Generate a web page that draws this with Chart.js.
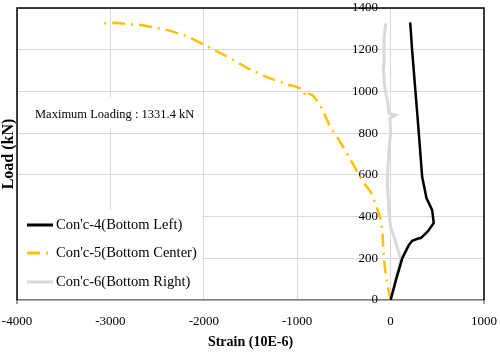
<!DOCTYPE html>
<html>
<head>
<meta charset="utf-8">
<script src="https://cdn.jsdelivr.net/npm/chart.js@4/dist/chart.umd.min.js"></script>
<style>
  html, body { margin: 0; padding: 0; background: #fff; }
</style>
</head>
<body>
<canvas id="chart" width="500" height="354"></canvas>
<script>
// strain (10E-6) / load (kN) pairs
const leftStrain = [0, 60, 125, 160, 196, 231, 302, 320, 338, 400, 462, 445, 384, 338, 291, 256, 230, 210];
const leftLoad   = [0, 100, 200, 232, 264, 284, 296, 296, 303, 330, 369, 431, 489, 591, 863, 1055, 1200, 1331];

const centerStrain = [0, -30, -53, -71, -80, -89, -114, -178, -213, -284, -340, -400, -498, -587, -658, -711, -765, -836, -889, -907, -942, -1014, -1110, -1316, -1529, -1743, -1956, -2170, -2383, -2668, -2953, -3095];
const centerLoad   = [0, 60, 128, 192, 260, 336, 400, 479, 519, 560, 600, 650, 727, 791, 839, 895, 943, 983, 991, 975, 1010, 1023, 1034, 1067, 1111, 1166, 1215, 1263, 1294, 1318, 1329, 1326];

const rightStrain = [0, 107, 89, 53, 0, -18, -36, -18, 0, -7, 53, -18, -36, -64, -78, -71, -53];
const rightLoad   = [0, 192, 224, 280, 351, 416, 575, 719, 800, 871, 887, 895, 959, 1023, 1119, 1246, 1326];

const seriesNames = ["Con'c-4(Bottom Left)", "Con'c-5(Bottom Center)", "Con'c-6(Bottom Right)"];
const xTicks = [-4000, -3000, -2000, -1000, 0, 1000];
const maxLoadText = 'Maximum Loading : 1331.4 kN';

const FONT = "'Times New Roman', 'Liberation Serif', serif";

const pairs = (xs, ys) => xs.map((x, i) => ({x, y: ys[i]}));

const data = {
  datasets: [
    {
      label: seriesNames[0],
      data: pairs(leftStrain, leftLoad),
      borderColor: '#000000',
      borderWidth: 2.5,
      order: 1,
    },
    {
      label: seriesNames[1],
      data: pairs(centerStrain, centerLoad),
      borderColor: '#FFC000',
      borderWidth: 2.5,
      borderDash: [13, 6, 2, 6],
      order: 3,
    },
    {
      label: seriesNames[2],
      data: pairs(rightStrain, rightLoad),
      borderColor: '#D9D9D9',
      borderWidth: 3,
      order: 2,
    },
  ].map(d => ({...d, showLine: true, pointRadius: 0, tension: 0, fill: false})),
};

// frame, legend box and the max-load note
const decorations = {
  id: 'decorations',
  beforeDatasetsDraw(chart) {
    const {ctx, chartArea: a} = chart;
    ctx.save();
    ctx.strokeStyle = '#000';
    ctx.lineWidth = 1.5;
    ctx.beginPath();
    ctx.moveTo(a.left, a.bottom);
    ctx.lineTo(a.left, a.top);
    ctx.lineTo(a.right, a.top);
    ctx.lineTo(a.right, a.bottom);
    ctx.stroke();

    // short dark ticks under both ends of the x axis
    ctx.strokeStyle = '#7f7f7f';
    ctx.beginPath();
    [a.left, a.right].forEach(x => { ctx.moveTo(x, a.bottom); ctx.lineTo(x, a.bottom + 4); });
    ctx.stroke();

    // note box
    ctx.fillStyle = '#fff';
    ctx.fillRect(a.left + 3, 97, 183, 31);
    ctx.fillStyle = '#000';
    ctx.font = '12.5px ' + FONT;
    ctx.textBaseline = 'middle';
    ctx.fillText(maxLoadText, a.left + 18, 115);

    // legend box
    ctx.fillStyle = '#fff';
    ctx.fillRect(a.left + 1, 210, 184, a.bottom - 211);
    ctx.font = '14.5px ' + FONT;
    const rowY = [225, 253, 282];
    chart.data.datasets.forEach((ds, i) => {
      ctx.strokeStyle = ds.borderColor;
      ctx.lineWidth = 3;
      ctx.setLineDash(ds.borderDash || []);
      ctx.beginPath();
      ctx.moveTo(a.left + 10, rowY[i]);
      ctx.lineTo(a.left + 36, rowY[i]);
      ctx.stroke();
      ctx.setLineDash([]);
      ctx.fillStyle = '#000';
      ctx.fillText(ds.label, a.left + 39, rowY[i]);
    });
    ctx.restore();
  },
};

const plain = v => String(v);

const options = {
  responsive: false,
  animation: false,
  layout: { padding: { top: 8, right: 16, left: 0, bottom: 0 } },
  plugins: { legend: { display: false }, tooltip: { enabled: false } },
  scales: {
    x: {
      type: 'linear',
      position: 'bottom',
      min: -4000,
      max: 1000,
      afterBuildTicks: scale => { scale.ticks = xTicks.map(v => ({value: v})); },
      afterFit: scale => { scale.height = 54; },
      grid: { color: '#D9D9D9', drawTicks: true, tickLength: 14, tickColor: 'rgba(0,0,0,0)' },
      border: { color: '#7f7f7f', width: 1.5 },
      ticks: { color: '#000', padding: 0, callback: plain, font: { family: FONT, size: 13 } },
      title: {
        display: true,
        text: 'Strain (10E-6)',
        color: '#000',
        padding: { top: 4, bottom: 3 },
        font: { family: FONT, size: 14, weight: 'bold' },
      },
    },
    y: {
      type: 'linear',
      // labels sit just left of the zero-strain line
      position: { x: -135 },
      min: 0,
      max: 1400,
      ticks: { stepSize: 200, color: '#000', padding: 0, callback: plain, font: { family: FONT, size: 13 } },
      grid: { color: '#D9D9D9', drawTicks: false },
      border: { display: false },
    },
    yTitle: {
      type: 'linear',
      axis: 'y',
      position: 'left',
      min: 0,
      max: 1400,
      afterFit: scale => { scale.width = 17; },
      grid: { display: false },
      border: { display: false },
      ticks: { display: false },
      title: {
        display: true,
        text: 'Load (kN)',
        color: '#000',
        padding: 0,
        font: { family: FONT, size: 16, weight: 'bold', lineHeight: 1.05 },
      },
    },
  },
};

new Chart(document.getElementById('chart'), {
  type: 'scatter',
  data,
  options,
  plugins: [decorations],
});
</script>
</body>
</html>
